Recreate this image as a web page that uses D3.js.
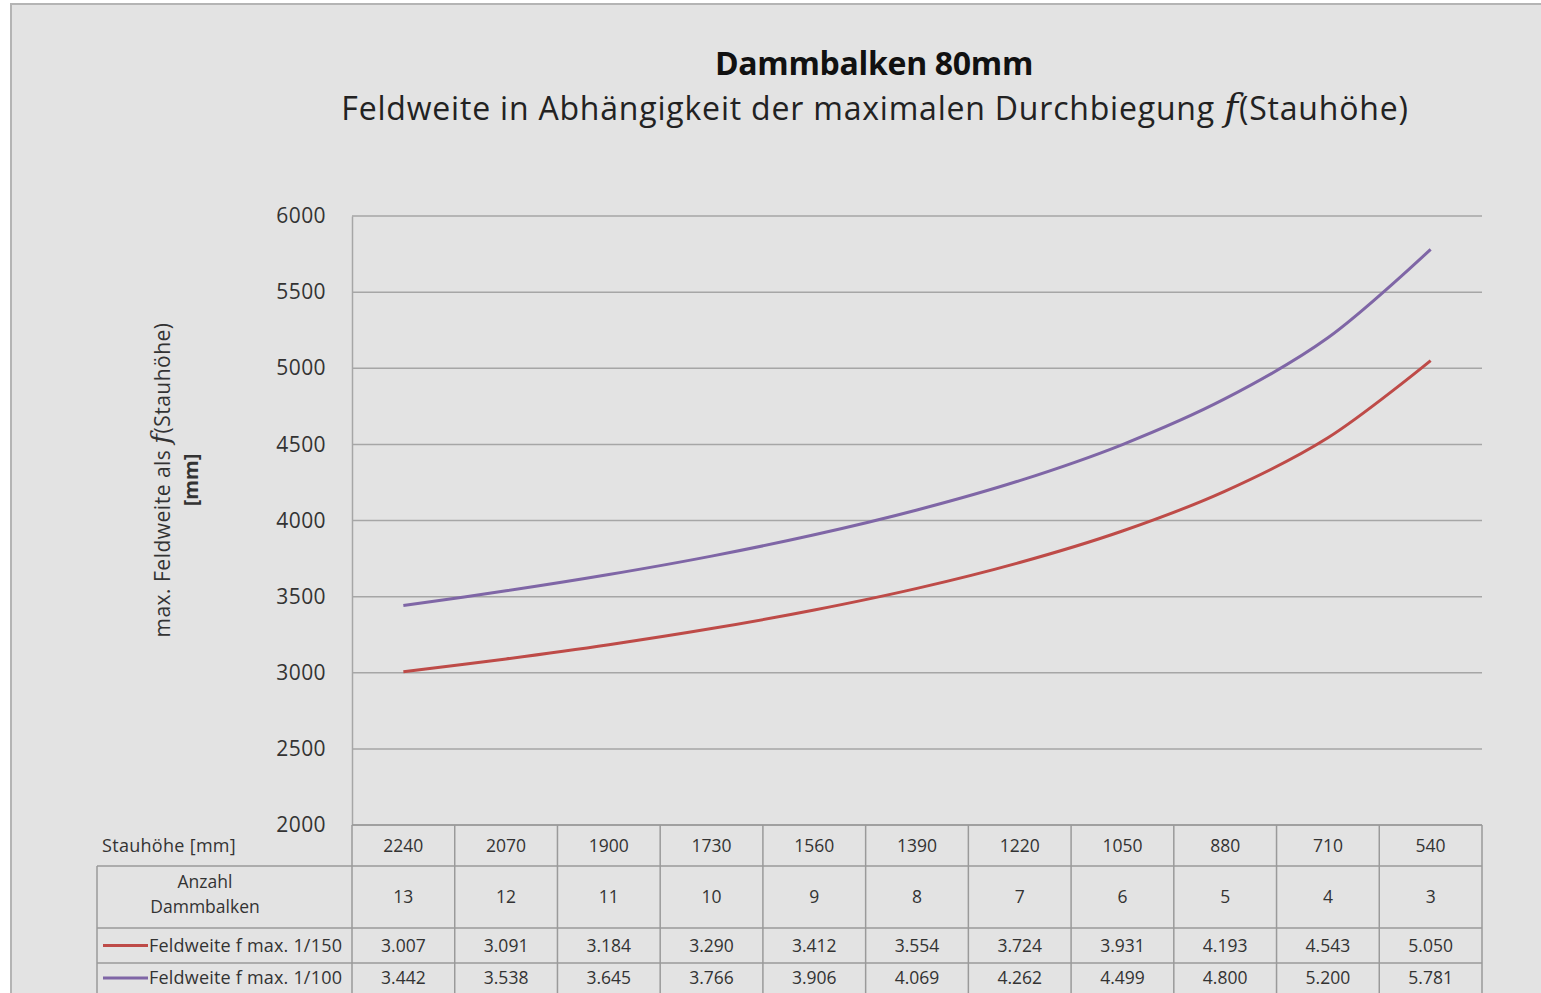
<!DOCTYPE html>
<html><head><meta charset="utf-8">
<script src="https://cdnjs.cloudflare.com/ajax/libs/d3/7.8.5/d3.min.js"></script>
<style>
html,body{margin:0;padding:0;background:#fff;}
svg{display:block;font-family:"Open Sans",sans-serif;}
</style></head><body>
<svg id="c" width="1541" height="993"></svg>
<script>
const stauhoehe = ["2240","2070","1900","1730","1560","1390","1220","1050","880","710","540"];
const anzahl = ["13","12","11","10","9","8","7","6","5","4","3"];
const series150 = [3007,3091,3184,3290,3412,3554,3724,3931,4193,4543,5050];
const series100 = [3442,3538,3645,3766,3906,4069,4262,4499,4800,5200,5781];
const yTicks = [2000,2500,3000,3500,4000,4500,5000,5500,6000];
const seriesNames = ["Feldweite f max. 1/150","Feldweite f max. 1/100"];
const seriesColors = ["#be4b48","#7f66a6"];

const svg = d3.select("#c");
svg.append("rect").attr("x",11).attr("y",4).attr("width",1535).attr("height",995)
  .attr("fill","#e3e3e3").attr("stroke","#b4b4b4").attr("stroke-width",2);

const L=352,R=1482,T=216,B=825;
const x = d3.scaleBand().domain(stauhoehe).range([L,R]);
const y = d3.scaleLinear().domain([2000,6000]).range([B,T]);

// title
svg.append("text").attr("x",874).attr("y",75).attr("text-anchor","middle")
  .attr("font-size",32).attr("font-weight","bold").attr("fill","#111").attr("letter-spacing",-0.3).text("Dammbalken 80mm");
const st = svg.append("text").attr("x",875).attr("y",120).attr("text-anchor","middle")
  .attr("font-size",32).attr("fill","#222").attr("letter-spacing",0.8);
st.append("tspan").text("Feldweite in Abhängigkeit der maximalen Durchbiegung  ");
st.append("tspan").attr("font-family","DejaVu Serif,serif").attr("font-style","italic").attr("font-size",38).text("f");
st.append("tspan").text("(Stauhöhe)");

// grid
svg.append("g").selectAll("line").data(yTicks).join("line")
  .attr("x1",L).attr("x2",R).attr("y1",d=>y(d)).attr("y2",d=>y(d))
  .attr("stroke","#a6a6a6").attr("stroke-width",1.5);

// y axis
const ya = svg.append("g").attr("transform",`translate(${L},0)`)
  .call(d3.axisLeft(y).tickValues(yTicks).tickSize(0).tickPadding(26).tickFormat(d3.format("d")));
ya.select(".domain").attr("stroke","#a6a6a6").attr("stroke-width",1.5);
ya.selectAll("text").attr("font-size",21).attr("fill","#333").attr("letter-spacing",0.4).attr("font-family","'Open Sans',sans-serif");

// y label
const yl = svg.append("text").attr("transform","translate(170,480) rotate(-90)").attr("text-anchor","middle")
  .attr("font-size",21).attr("fill","#333").attr("letter-spacing",0.5);
yl.append("tspan").text("max. Feldweite als ");
yl.append("tspan").attr("font-family","DejaVu Serif,serif").attr("font-style","italic").attr("font-size",26).text("f");
yl.append("tspan").text("(Stauhöhe)");
svg.append("text").attr("transform","translate(198,480) rotate(-90)").attr("text-anchor","middle")
  .attr("font-size",20).attr("font-weight","bold").attr("fill","#333").text("[mm]");

// lines
const line = d3.line().x((d,i)=>x(stauhoehe[i])+x.bandwidth()/2).y(d=>y(d)).curve(d3.curveCatmullRom);
[series150,series100].forEach((s,k)=>{
  svg.append("path").attr("d",line(s)).attr("fill","none").attr("stroke",seriesColors[k]).attr("stroke-width",3);
});

// table
const rows=[825,866,928,963,1000];
const tg = svg.append("g");
const gc="#9a9a9a";
tg.append("line").attr("x1",L).attr("x2",R).attr("y1",rows[0]).attr("y2",rows[0]).attr("stroke",gc).attr("stroke-width",1.5);
[1,2,3].forEach(i=>tg.append("line").attr("x1",97).attr("x2",R).attr("y1",rows[i]).attr("y2",rows[i]).attr("stroke",gc).attr("stroke-width",1.5));
tg.append("line").attr("x1",97).attr("x2",97).attr("y1",rows[1]).attr("y2",rows[4]).attr("stroke",gc).attr("stroke-width",1.5);
const bounds = stauhoehe.map(d=>x(d)).concat([R]);
tg.selectAll("line.v").data(bounds).join("line").attr("class","v")
  .attr("x1",d=>d).attr("x2",d=>d).attr("y1",rows[0]).attr("y2",rows[4]).attr("stroke",gc).attr("stroke-width",1.5);

const tf = 17.5;
const cx = d=>x(d)+x.bandwidth()/2;
tg.selectAll("text.r0").data(stauhoehe).join("text").attr("class","r0")
  .attr("x",d=>cx(d)).attr("y",(rows[0]+rows[1])/2+6).attr("text-anchor","middle").attr("font-size",tf).attr("fill","#333").text(d=>d);
tg.selectAll("text.r1").data(anzahl).join("text").attr("class","r1")
  .attr("x",(d,i)=>cx(stauhoehe[i])).attr("y",(rows[1]+rows[2])/2+6).attr("text-anchor","middle").attr("font-size",tf).attr("fill","#333").text(d=>d);
const fmt = v=>d3.format(".3f")(v/1000);
[series150,series100].forEach((s,k)=>{
  const yy=(rows[2+k]+(k==0?rows[3]:993))/2+6;
  tg.selectAll("text.s"+k).data(s).join("text").attr("class","s"+k)
    .attr("x",(d,i)=>cx(stauhoehe[i])).attr("y",yy).attr("text-anchor","middle").attr("font-size",tf).attr("fill","#333").text(d=>fmt(d));
  tg.append("line").attr("x1",103).attr("x2",148).attr("y1",yy-6).attr("y2",yy-6).attr("stroke",seriesColors[k]).attr("stroke-width",3);
  tg.append("text").attr("x",149).attr("y",yy).attr("font-size",18).attr("fill","#333").attr("letter-spacing",0.2).text(seriesNames[k]);
});
tg.append("text").attr("x",102).attr("y",(rows[0]+rows[1])/2+6).attr("font-size",18).attr("fill","#333").attr("letter-spacing",0.3).text("Stauhöhe [mm]");
tg.append("text").attr("x",205).attr("y",888).attr("text-anchor","middle").attr("font-size",tf).attr("fill","#333").text("Anzahl");
tg.append("text").attr("x",205).attr("y",913).attr("text-anchor","middle").attr("font-size",tf).attr("fill","#333").text("Dammbalken");
</script></body></html>
